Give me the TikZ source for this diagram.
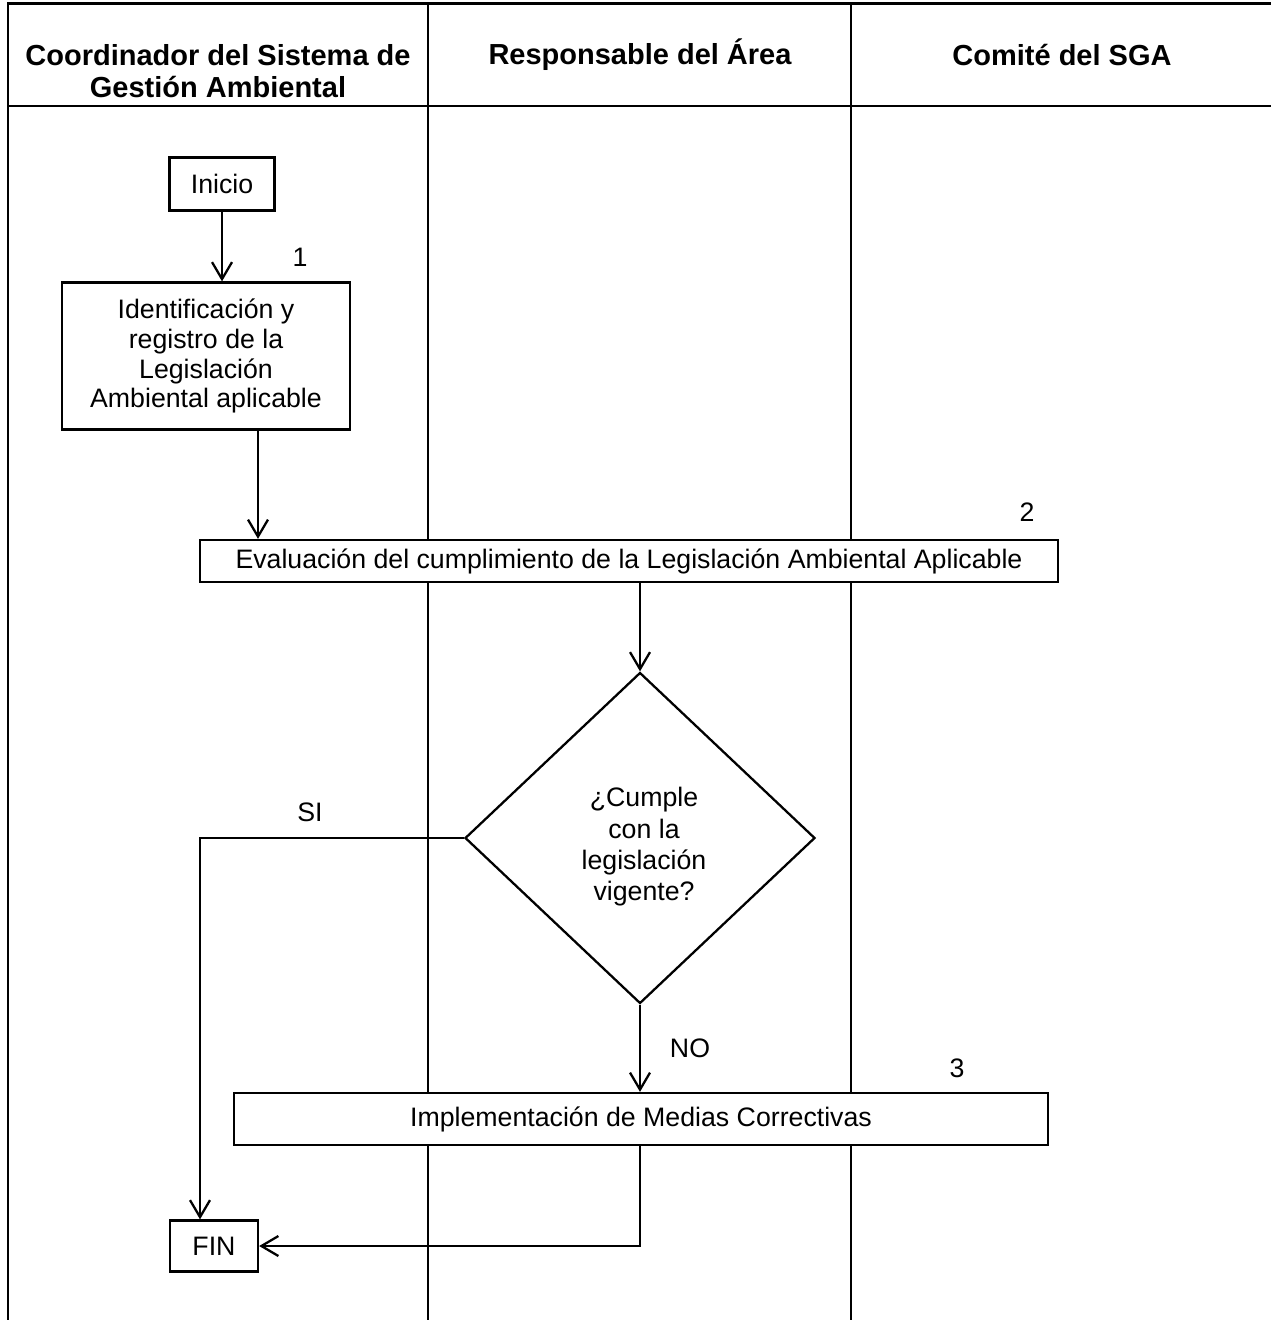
\documentclass[tikz,border=0pt]{standalone}
\usepackage{fontspec}
\setmainfont{Liberation Sans}
\usetikzlibrary{arrows.meta}
\usetikzlibrary{shapes.geometric}

\begin{document}
\begin{tikzpicture}[x=0.2mm,y=-0.2mm]
\tikzset{>={Straight Barb[length=3.4mm,width=4mm]}}
\tikzstyle{lane} =[line width=1.3pt]
\tikzstyle{head} =[font=\fontsize{16.5}{18.5}\selectfont\bfseries,align=center]
\tikzstyle{proc} =[draw,fill=white,line width=1.3pt,font=\fontsize{15.2}{17}\selectfont,align=center,inner sep=0pt]
\tikzstyle{decision} =[draw,fill=white,diamond,line width=1.3pt,inner sep=0pt]
\tikzstyle{tag} =[font=\fontsize{15.2}{17}\selectfont]
\tikzstyle{flow} =[->,line width=1.3pt]

\useasboundingbox (0,0) rectangle (1271,1320);

% columnas
\draw[lane] (8,1320) -- (8,4);
\draw[line width=1.7pt] (7,4) -- (1271,4);
\draw[lane] (428,4) -- (428,1320);
\draw[lane] (851,4) -- (851,1320);
\draw[lane] (8,106) -- (1271,106);

\node[head](h1) at (218,71){Coordinador del Sistema de\\Gestión Ambiental};
\node[head](h2) at (640,55){Responsable del Área};
\node[head](h3) at (1062,55){Comité del SGA};

% actividades
\node[proc,minimum width=21mm,minimum height=10.6mm](inicio) at (222,184){Inicio};
\node[proc,minimum width=57.6mm,minimum height=29.4mm](ident) at (206,356){Identificación y\\registro de la\\Legislación\\Ambiental aplicable};
\node[proc,minimum width=171.6mm,minimum height=8.4mm](evalua) at (629,561){Evaluación del cumplimiento de la Legislación Ambiental Aplicable};
\node[decision,minimum width=70mm,minimum height=66.2mm](cumple) at (640,838){};
\node[tag,align=center,font=\fontsize{15.2}{17.8}\selectfont](pregunta) at (644,847){¿Cumple\\con la\\legislación\\vigente?};
\node[proc,minimum width=162.8mm,minimum height=10.4mm](medidas) at (641,1119){Implementación de Medias Correctivas};
\node[proc,minimum width=17.6mm,minimum height=10.2mm](fin) at (214,1246){FIN};

\node[tag](n1) at (300,257){1};
\node[tag](n2) at (1027,512){2};
\node[tag](n3) at (957,1068){3};
\node[tag](si) at (310,812){SI};
\node[tag](no) at (690,1048){NO};

\draw[flow] (inicio.south) -- (inicio.south |- ident.north);
\draw[flow] ([xshift=10.4mm]ident.south) -- ([xshift=10.4mm]ident.south |- evalua.north);
\draw[flow] (evalua.south -| cumple.north) -- (cumple.north);
\draw[flow] (cumple.west) -| ([xshift=-2.8mm]fin.north);
\draw[flow] (cumple.south) -- (cumple.south |- medidas.north);
\draw[flow] (medidas.south -| cumple.south) |- (fin.east);
\end{tikzpicture}
\end{document}
